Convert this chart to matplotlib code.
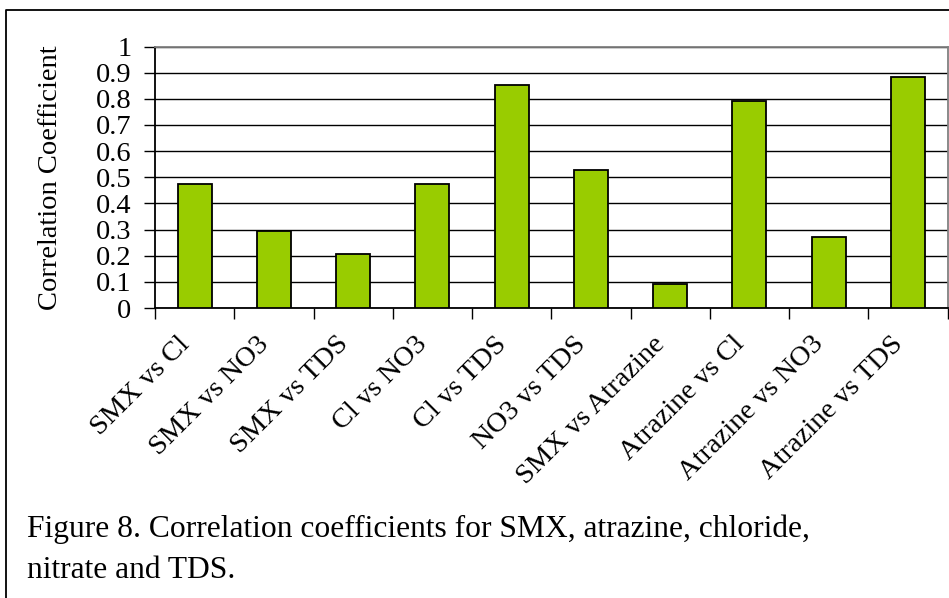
import matplotlib
matplotlib.use('Agg')
import matplotlib.pyplot as plt
from matplotlib.lines import Line2D
import numpy as np

plt.rcParams['font.family'] = ['Liberation Serif', 'DejaVu Serif']

categories = ['SMX vs Cl', 'SMX vs NO3', 'SMX vs TDS', 'Cl vs NO3', 'Cl vs TDS',
              'NO3 vs TDS', 'SMX vs Atrazine', 'Atrazine vs Cl', 'Atrazine vs NO3',
              'Atrazine vs TDS']
coeffs = [0.473, 0.293, 0.206, 0.473, 0.851, 0.529, 0.090, 0.791, 0.272, 0.882]
yticks = [0, 0.1, 0.2, 0.3, 0.4, 0.5, 0.6, 0.7, 0.8, 0.9, 1]
yticklabels = ['0', '0.1', '0.2', '0.3', '0.4', '0.5', '0.6', '0.7', '0.8', '0.9', '1']

W, H = 949, 598
fig = plt.figure(figsize=(W / 100, H / 100), dpi=100)
ax = fig.add_axes([155 / W, 1 - 308 / H, (947.5 - 155) / W, (308 - 46.5) / H])

x = np.arange(len(categories))
ax.bar(x, coeffs, width=0.43, color='#99CC00', edgecolor='black', linewidth=1.3, zorder=3)

ax.set_xlim(-0.5, len(categories) - 0.5)
ax.set_ylim(0, 1)
ax.set_yticks(yticks)
ax.set_yticklabels(yticklabels, fontsize=20.5)
ax.yaxis.grid(True, color='black', linewidth=1, zorder=0)
ax.set_axisbelow(True)

# category ticks sit between the bars
ax.set_xticks(np.arange(len(categories) + 1) - 0.5)
ax.set_xticklabels([])
ax.set_xticks(x, minor=True)
ax.set_xticklabels(categories, minor=True, rotation=45, ha='right', va='top',
                   fontsize=20.5)
ax.tick_params(axis='x', which='minor', length=0, pad=17)
ax.tick_params(axis='x', which='major', length=8, width=1, direction='out')
ax.tick_params(axis='y', length=8, width=1, direction='out', pad=9)

ax.spines['left'].set_color('black')
ax.spines['bottom'].set_color('black')
ax.spines['top'].set_color('#808080')
ax.spines['right'].set_color('#808080')
for s in ax.spines.values():
    s.set_linewidth(1.3)

ax.set_ylabel('Correlation Coefficient', fontsize=20.5)
ax.yaxis.set_label_coords(-92 / (947.5 - 155), 0.5)

fig.text(27 / W, 1 - 537 / H, 'Figure 8. Correlation coefficients for SMX, atrazine, chloride,',
         fontsize=22.7, ha='left', va='baseline')
fig.text(27 / W, 1 - 578 / H, 'nitrate and TDS.', fontsize=22.7, ha='left', va='baseline')

# outer frame (left and top edges visible)
fig.add_artist(Line2D([6 / W, 6 / W, 1], [0, 1 - 10 / H, 1 - 10 / H],
                      transform=fig.transFigure, color='black', linewidth=1.3))

fig.savefig('out.png', dpi=100)
